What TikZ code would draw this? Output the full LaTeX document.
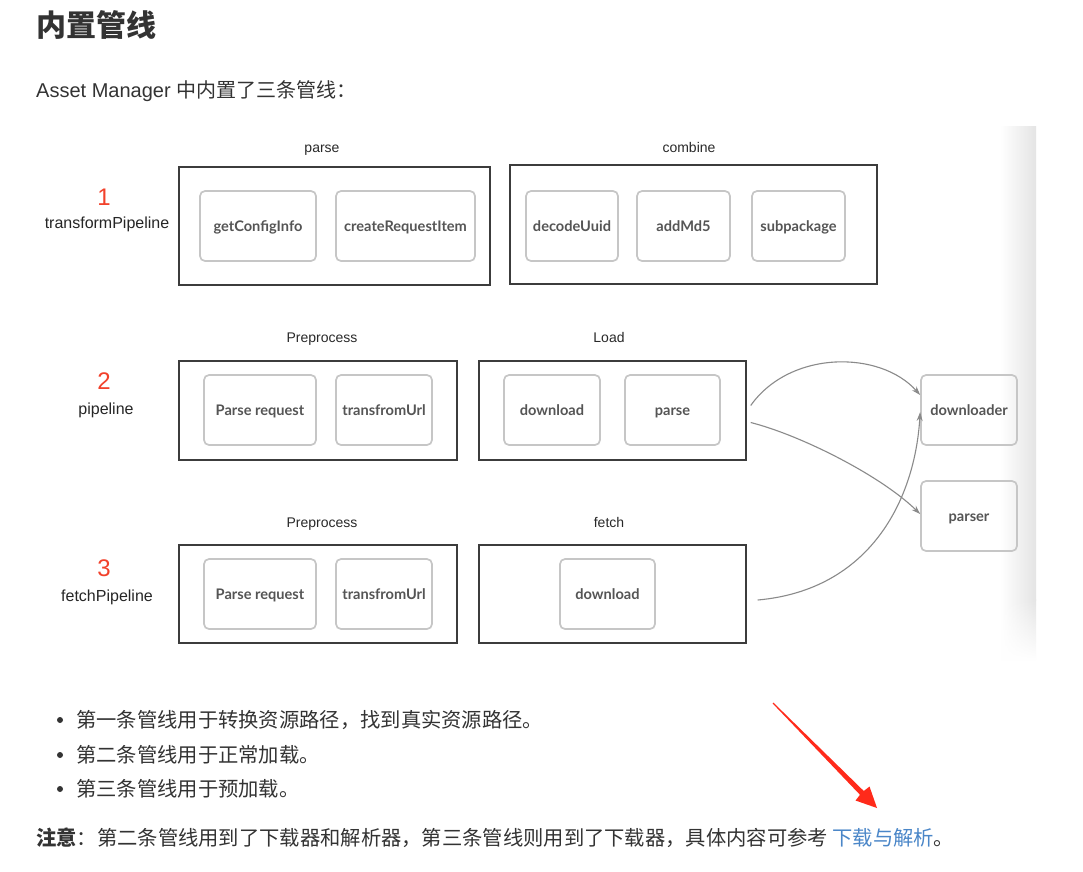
\documentclass[tikz,border=0pt]{standalone}
\usepackage{fontspec}
\setmainfont{Liberation Sans}
\newfontfamily\cjk{Noto Sans CJK SC}
\newfontfamily\boxfont{Lato}
\usetikzlibrary{arrows.meta,calc,fadings}
\definecolor{txt}{HTML}{333333}
\definecolor{boxtxt}{HTML}{555555}
\definecolor{outerline}{HTML}{3C3C3C}
\definecolor{innerline}{HTML}{C6C6C6}
\definecolor{conn}{HTML}{8A8A8A}
\definecolor{numred}{HTML}{F2412B}
\definecolor{linkblue}{HTML}{4A86C8}
\definecolor{shadegray}{HTML}{E4E4E4}
\definecolor{annred}{HTML}{FF2A1A}
\begin{document}
\begin{tikzpicture}[x=1pt,y=-1pt,
  outerbox/.style={draw=outerline,line width=1.4pt,minimum height=#1,inner sep=0pt},
  innerbox/.style={draw=innerline,line width=1.7pt,rounded corners=5pt,minimum height=70pt,inner sep=0pt,
     text height=12.5pt,text depth=1.5pt,
     font=\boxfont\bfseries\fontsize{14.6}{16}\selectfont,text=boxtxt},
  grouplabel/.style={font=\fontsize{14}{16}\selectfont,text=txt!80!black,text height=12.5pt,text depth=1.5pt},
  pipename/.style={font=\fontsize{16}{18}\selectfont,text=black!85,text height=13.5pt,text depth=1.5pt},
  pipenum/.style={font=\fontsize{24}{26}\selectfont,text=numred},
  connector/.style={draw=conn,line width=1.1pt,-{Stealth[length=9pt,width=6pt]}},
  bodytext/.style={anchor=west,inner sep=0pt,text=txt,font=\cjk\fontsize{20.3}{24}\selectfont},
]
\useasboundingbox (0,0) rectangle (1083,871);
\fill[white] (0,0) rectangle (1083,871);
% right shadow of the screenshot
\shade[left color=white,right color=shadegray] (1000,126) rectangle (1036,600);
\shade[left color=white,right color=shadegray,path fading=south] (1000,599.5) rectangle (1036,660);

% heading
\node[anchor=west,inner sep=0pt,text=txt,font=\cjk\bfseries\fontsize{30}{32}\selectfont] (title) at (36,25) {内置管线};
\node[anchor=west,inner sep=0pt,text=txt,font=\fontsize{20}{24}\selectfont] (intro) at (36,91) {Asset Manager {\cjk 中内置了三条管线：}};

% ---------- row 1 ----------
\node[pipenum] (n1) at (104,197) {1};
\node[pipename] (p1) at (107,222) {transformPipeline};
\node[grouplabel] (l1a) at (322,147) {parse};
\node[grouplabel] (l1b) at (689,147) {combine};
\node[outerbox=118pt,minimum width=311pt] (parsebox) at (334.5,226) {};
\node[outerbox=119pt,minimum width=367pt] (combinebox) at (693.5,224.5) {};
\node[innerbox,minimum width=116pt] (gci) at (258,226) {getConfigInfo};
\node[innerbox,minimum width=139pt] (cri) at (405.5,226) {createRequestItem};
\node[innerbox,minimum width=92pt] (du) at (572,226) {decodeUuid};
\node[innerbox,minimum width=93pt] (md5) at (683.5,226) {addMd5};
\node[innerbox,minimum width=93pt] (sub) at (798.5,226) {subpackage};

% ---------- row 2 ----------
\node[pipenum] (n2) at (104,381) {2};
\node[pipename] (p2) at (106,408) {pipeline};
\node[grouplabel] (l2a) at (322,337) {Preprocess};
\node[grouplabel] (l2b) at (609,337) {Load};
\node[outerbox=99pt,minimum width=278pt] (pre2) at (318,410.5) {};
\node[outerbox=99pt,minimum width=267pt] (load) at (612.5,410.5) {};
\node[innerbox,minimum width=112pt] (pr2) at (260,410) {Parse request};
\node[innerbox,minimum width=96pt] (tu2) at (384,410) {transfromUrl};
\node[innerbox,minimum width=96pt] (dl2) at (552,410) {download};
\node[innerbox,minimum width=95pt] (ps2) at (672.5,410) {parse};
\node[innerbox,minimum width=96pt] (downloader) at (969,410) {downloader};
\node[innerbox,minimum width=96pt] (parser) at (969,516) {parser};

% ---------- row 3 ----------
\node[pipenum] (n3) at (104,568) {3};
\node[pipename] (p3) at (107,595) {fetchPipeline};
\node[grouplabel] (l3a) at (322,522) {Preprocess};
\node[grouplabel] (l3b) at (609,522) {fetch};
\node[outerbox=98pt,minimum width=278pt] (pre3) at (318,594) {};
\node[outerbox=98pt,minimum width=267pt] (fetch) at (612.5,594) {};
\node[innerbox,minimum width=112pt] (pr3) at (260,594) {Parse request};
\node[innerbox,minimum width=96pt] (tu3) at (384,594) {transfromUrl};
\node[innerbox,minimum width=95pt] (dl3) at (607.5,594) {download};

% ---------- connectors ----------
\coordinate (s1) at ([xshift=4pt,yshift=5pt]load.east);
\coordinate (s2) at ([xshift=4pt,yshift=-12pt]load.east);
\coordinate (s3) at ([xshift=11pt,yshift=-6pt]fetch.east);
\coordinate (e1) at ([yshift=15pt]downloader.west);
\coordinate (e3) at ([yshift=-2pt]downloader.west);
\coordinate (e2) at ([yshift=2pt]parser.west);
\draw[connector] (s1) .. controls (790,350) and (880,350) .. (e1);
\draw[connector] (s2) .. controls (800,435) and (880,475) .. (e2);
\draw[connector] (s3) .. controls (870,590) and (915,500) .. (e3);

% ---------- text below ----------
\fill[txt] (60,720) circle (3pt);
\fill[txt] (60,755) circle (3pt);
\fill[txt] (60,789) circle (3pt);
\node[bodytext] (b1) at (76,720) {第一条管线用于转换资源路径，找到真实资源路径。};
\node[bodytext] (b2) at (76,755) {第二条管线用于正常加载。};
\node[bodytext] (b3) at (76,789) {第三条管线用于预加载。};
\node[bodytext] (note) at (36,838) {{\bfseries 注意}：第二条管线用到了下载器和解析器，第三条管线则用到了下载器，具体内容可参考 {\color{linkblue}下载与解析}。};

% red annotation arrow
\fill[annred] (772.6,703.4) -- (773.4,702.6) -- (863.8,791.0) -- (869.5,786.5) -- (877,808) -- (855.5,800.5) -- (860,794.8) -- cycle;
\end{tikzpicture}
\end{document}
